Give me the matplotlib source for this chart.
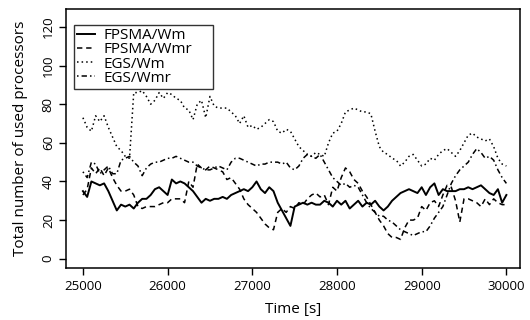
import matplotlib
matplotlib.use("Agg")
import matplotlib.pyplot as plt
import numpy as np

plt.rcParams['font.family'] = ['Open Sans', 'DejaVu Sans']

# sampling times, one point every 50 s
t = np.arange(25000, 30001, 50)

fpsma_wm = [35, 32, 40, 39, 38, 39, 35, 30, 25, 28,
            27, 28, 26, 29, 31, 31, 33, 36, 37, 35,
            33, 41, 39, 40, 39, 37, 35, 32, 29, 31,
            30, 31, 31, 32, 31, 33, 34, 35, 36, 35,
            37, 40, 36, 34, 37, 35, 29, 25, 21, 17,
            27, 28, 29, 28, 29, 28, 28, 30, 29, 27,
            30, 28, 30, 26, 28, 30, 27, 29, 28, 30,
            27, 25, 27, 30, 32, 34, 35, 36, 35, 34,
            37, 33, 37, 39, 33, 36, 35, 35, 35, 36,
            36, 37, 36, 37, 38, 36, 34, 33, 36, 29,
            33]

fpsma_wmr = [33, 36, 47, 44, 47, 43, 47, 42, 38, 35,
             35, 36, 33, 27, 26, 27, 27, 27, 28, 29,
             29, 31, 31, 31, 29, 40, 37, 49, 47, 46,
             48, 47, 46, 45, 41, 42, 39, 36, 31, 28,
             26, 24, 21, 18, 16, 15, 24, 26, 24, 27,
             26, 29, 28, 31, 33, 34, 32, 33, 28, 37,
             35, 42, 47, 45, 41, 39, 35, 32, 28, 24,
             20, 17, 13, 11, 11, 10, 16, 20, 20, 21,
             27, 25, 29, 30, 27, 33, 38, 37, 30, 19,
             31, 31, 30, 29, 27, 31, 28, 31, 29, 28,
             28]

egs_wm = [73, 68, 66, 74, 71, 74, 68, 63, 58, 56,
          53, 52, 86, 86, 87, 84, 80, 82, 86, 83,
          86, 85, 83, 82, 78, 77, 72, 80, 82, 73,
          84, 79, 78, 78, 78, 76, 74, 70, 74, 68,
          69, 67, 68, 70, 72, 71, 66, 65, 67, 66,
          62, 58, 56, 54, 53, 55, 54, 53, 60, 65,
          66, 70, 76, 77, 78, 77, 76, 76, 75, 66,
          58, 55, 54, 52, 51, 48, 50, 53, 54, 51,
          48, 49, 52, 51, 54, 56, 57, 55, 53, 56,
          60, 64, 65, 63, 62, 61, 62, 58, 52, 49,
          48]

egs_wmr = [45, 42, 50, 49, 44, 46, 48, 44, 44, 51,
           52, 53, 50, 48, 43, 47, 49, 50, 50, 51,
           52, 52, 53, 52, 51, 50, 50, 48, 47, 46,
           46, 47, 48, 47, 46, 50, 52, 52, 51, 50,
           49, 48, 49, 49, 50, 50, 50, 49, 50, 47,
           46, 48, 52, 54, 53, 52, 54, 50, 46, 42,
           40, 38, 39, 37, 38, 37, 33, 29, 26, 24,
           22, 22, 20, 19, 17, 15, 14, 13, 12, 13,
           14, 14, 17, 21, 24, 27, 33, 39, 43, 46,
           48, 50, 54, 57, 55, 52, 53, 51, 46, 42,
           39]

labels = ["FPSMA/Wm", "FPSMA/Wmr", "EGS/Wm", "EGS/Wmr"]
xticks = [25000, 26000, 27000, 28000, 29000, 30000]
yticks = [0, 20, 40, 60, 80, 100, 120]

fig = plt.figure(figsize=(5.3, 3.2), dpi=100)
ax = fig.add_axes([0.1245, 0.1625, 0.8565, 0.8095])

lw = 1.1
ax.plot(t, fpsma_wm, color="black", lw=1.4, linestyle="-", label=labels[0])
ax.plot(t, fpsma_wmr, color="black", lw=lw, dashes=(3.5, 2.5), label=labels[1])
ax.plot(t, egs_wm, color="black", lw=lw, dashes=(1, 2), label=labels[2])
ax.plot(t, egs_wmr, color="black", lw=lw, dashes=(1, 2, 3.5, 2), label=labels[3])

ax.set_xlim(24800, 30160)
ax.set_ylim(-4.8, 129.3)
ax.set_xticks(xticks)
ax.set_yticks(yticks)
ax.set_yticklabels([str(v) for v in yticks], rotation=90, va="center")
ax.tick_params(direction="out", length=5, width=1, labelsize=9.5, color="black")
ax.tick_params(axis="x", pad=4)
ax.tick_params(axis="y", pad=3)
for s in ax.spines.values():
    s.set_linewidth(1.1)

ax.set_xlabel("Time [s]", fontsize=11, labelpad=6)
ax.set_ylabel("Total number of used processors", fontsize=11, labelpad=10)

# boxed legend in the upper-left corner, stretched to a fixed width
leg = ax.legend(loc="upper left", bbox_to_anchor=(0.0176, 0.0, 0.306, 0.938),
                mode="expand", fontsize=11, frameon=True, fancybox=False,
                handlelength=1.2, handletextpad=0.5, labelspacing=-0.05,
                borderpad=0.2, borderaxespad=0)
leg.get_frame().set_edgecolor("black")
leg.get_frame().set_linewidth(1.0)

fig.savefig("out.png", dpi=100)
